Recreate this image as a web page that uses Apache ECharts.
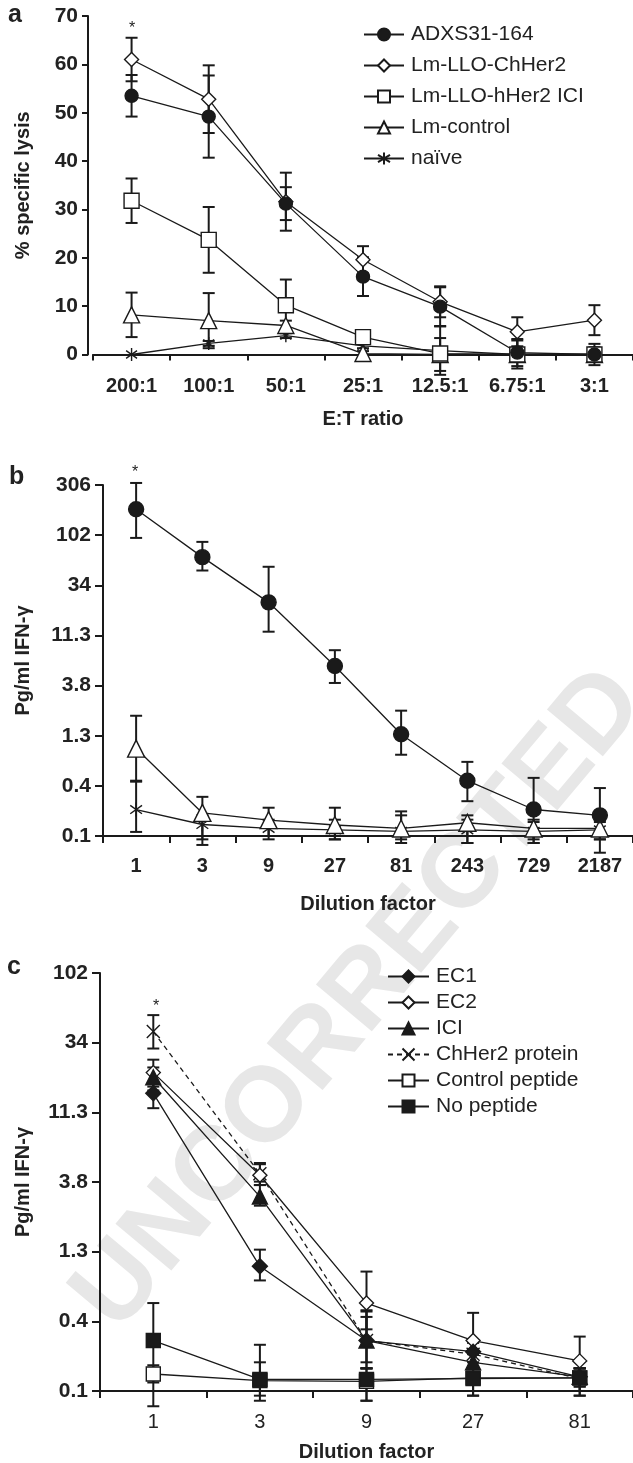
<!DOCTYPE html>
<html><head><meta charset="utf-8">
<script src="https://cdn.jsdelivr.net/npm/echarts@6/dist/echarts.min.js"></script>
<style>html,body{margin:0;padding:0;background:#fff}#c{width:633px;height:1463px}</style>
</head><body><div id="c"></div>
<script>
// ---------- Panel a : % specific lysis ----------
const catsA = ['200:1','100:1','50:1','25:1','12.5:1','6.75:1','3:1'];
const a_adxs      = [53.5, 49.2, 31.2, 16.1, 9.9, 0.4, 0];
const a_adxsErr   = [4.3, 8.5, 3.4, 4.0, 4.0, 2.8, 0];
const a_chher2    = [61.0, 52.8, 31.6, 19.6, 10.9, 4.7, 7.1];
const a_chher2Err = [4.5, 7.0, 6.0, 2.8, 3.2, 3.0, 3.1];
const a_ici       = [31.8, 23.7, 10.2, 3.6, 0.2, 0, 0];
const a_iciErr    = [4.6, 6.8, 5.3, 0.5, 0.5, 0, 2.2];
const a_ctrl      = [8.2, 7.0, 6.0, 0.2, 0, 0, 0];
const a_ctrlErr   = [4.6, 5.7, 1.0, 0.5, 3.4, 2.9, 1.5];
const a_naive     = [0, 2.3, 3.9, 1.8, 0.8, 0, 0];
const a_naiveErr  = [0, 0.5, 0.5, 0.5, 5.0, 0.5, 0.5];
const namesA = ['ADXS31-164','Lm-LLO-ChHer2','Lm-LLO-hHer2 ICI','Lm-control','naïve'];

// ---------- Panel b : Pg/ml IFN-gamma (log3 scale) ----------
const catsB = ['1','3','9','27','81','243','729','2187'];
const ticksB = ['0.1','0.4','1.3','3.8','11.3','34','102','306'];
const b_adxs    = [180, 63, 23.4, 5.8, 1.30, 0.47, 0.25, 0.22];
const b_adxsLo  = [96, 47, 12.3, 4.0, 0.83, 0.30, 0.12, 0.097];
const b_adxsHi  = [320, 88, 51, 8.2, 2.18, 0.71, 0.50, 0.40];
const b_ctrl    = [0.95, 0.232, 0.198, 0.178, 0.165, 0.187, 0.165, 0.165];
const b_ctrlLo  = [0.46, 0.13, 0.14, 0.13, 0.13, 0.12, 0.13, 0.13];
const b_ctrlHi  = [1.95, 0.33, 0.26, 0.26, 0.24, 0.22, 0.20, 0.20];
const b_naive   = [0.25, 0.18, 0.165, 0.16, 0.155, 0.16, 0.155, 0.16];
const b_naiveLo = [0.153, 0.115, 0.13, 0.13, 0.12, 0.12, 0.12, 0.13];
const b_naiveHi = [0.47, 0.22, 0.20, 0.20, 0.22, 0.20, 0.19, 0.19];

// ---------- Panel c : Pg/ml IFN-gamma (log3 scale) ----------
const catsC = ['1','3','9','27','81'];
const ticksC = ['0.1','0.4','1.3','3.8','11.3','34','102'];
const namesC = ['EC1','EC2','ICI','ChHer2 protein','Control peptide','No peptide'];
const c_ec1      = [15.3, 1.0, 0.31, 0.26, 0.175];
const c_ec1Lo    = [12.1, 0.8, 0.20, 0.22, 0.15];
const c_ec1Hi    = [18.0, 1.3, 0.45, 0.30, 0.20];
const c_ec2      = [21.2, 4.2, 0.56, 0.31, 0.225];
const c_ec2Lo    = [17.0, 3.6, 0.37, 0.25, 0.17];
const c_ec2Hi    = [26.0, 5.0, 0.92, 0.48, 0.33];
const c_ici      = [19.7, 3.0, 0.31, 0.22, 0.175];
const c_iciLo    = [16.0, 2.6, 0.22, 0.18, 0.15];
const c_iciHi    = [23.0, 3.8, 0.49, 0.27, 0.20];
const c_chher2   = [40.5, 4.3, 0.31, 0.25, 0.17];
const c_chher2Lo = [31.0, 3.6, 0.20, 0.20, 0.14];
const c_chher2Hi = [52.5, 5.1, 0.50, 0.30, 0.20];
const c_ctrlPep   = [0.183, 0.165, 0.163, 0.172, 0.172];
const c_ctrlPepLo = [0.16, 0.12, 0.12, 0.13, 0.13];
const c_ctrlPepHi = [0.21, 0.22, 0.20, 0.20, 0.20];
const c_noPep     = [0.31, 0.168, 0.168, 0.17, 0.172];
const c_noPepLo   = [0.11, 0.13, 0.12, 0.13, 0.13];
const c_noPepHi   = [0.56, 0.29, 0.20, 0.20, 0.20];

// ---------- helpers ----------
const INK = '#1a1a1a';
const FONT = '"Liberation Sans", Arial, Helvetica, sans-serif';
const BASE = 306 / Math.pow(3, 7);            // value of the bottom tick (labelled 0.1)
const T = v => Math.log(v / BASE) / Math.log(3);

const SYM = {
  asterisk: 'path://M5,0 L5,10 M0.8,2 L9.2,8 M0.8,8 L9.2,2',
  cross: 'path://M0,0 L10,10 M10,0 L0,10'
};

function lineSeries(name, xi, data, symbol, size, filled, dashed) {
  return {
    type: 'line', name, xAxisIndex: xi, yAxisIndex: xi, data,
    symbol, symbolSize: size, symbolKeepAspect: true, showAllSymbol: true,
    z: 4, silent: true, animation: false, clip: false,
    lineStyle: { color: INK, width: 1.3, type: dashed ? [5, 4] : 'solid' },
    itemStyle: { color: filled ? INK : '#fff', borderColor: INK, borderWidth: 1.4, opacity: 1 },
    emphasis: { disabled: true }
  };
}
function errSeries(xi, lo, hi) {
  return {
    type: 'custom', xAxisIndex: xi, yAxisIndex: xi, z: 3, silent: true, animation: false, clip: false,
    data: lo.map((l, i) => [i, l, hi[i]]),
    encode: { x: 0, y: [1, 2] },
    renderItem: (params, api) => {
      const x = api.value(0), l = api.value(1), h = api.value(2);
      if (Math.abs(h - l) < 1e-9) return null;
      const p1 = api.coord([x, l]), p2 = api.coord([x, h]);
      const w = 6, st = { stroke: INK, lineWidth: 2 };
      return { type: 'group', children: [
        { type: 'line', shape: { x1: p1[0], y1: p1[1], x2: p2[0], y2: p2[1] }, style: st },
        { type: 'line', shape: { x1: p1[0] - w, y1: p1[1], x2: p1[0] + w, y2: p1[1] }, style: st },
        { type: 'line', shape: { x1: p2[0] - w, y1: p2[1], x2: p2[0] + w, y2: p2[1] }, style: st }
      ]};
    }
  };
}
const linLo = (m, e) => m.map((v, i) => v - e[i]);
const linHi = (m, e) => m.map((v, i) => v + e[i]);
const tr = arr => arr.map(T);

const axisLineStyle = { lineStyle: { color: INK, width: 2 } };
const tickStyle = len => ({ show: true, inside: false, length: len, lineStyle: { color: INK, width: 2 } });
const boldLabel = (size, margin) => ({ fontFamily: FONT, fontWeight: 'bold', fontSize: size, color: '#222', margin });
const nameStyle = { fontFamily: FONT, fontWeight: 'bold', fontSize: 20, color: '#222' };

const option = {
  backgroundColor: '#fff',
  animation: false,
  textStyle: { fontFamily: FONT },
  grid: [
    { left: 93, top: 16, width: 546, height: 338.5 },
    { left: 103, top: 485, width: 530, height: 351 },
    { left: 100, top: 973, width: 533, height: 419 }
  ],
  xAxis: [
    { gridIndex: 0, type: 'category', data: catsA, boundaryGap: true,
      axisLine: axisLineStyle, axisTick: tickStyle(6), axisLabel: boldLabel(20, 22),
      name: 'E:T ratio', nameLocation: 'middle', nameGap: 55, nameTextStyle: nameStyle },
    { gridIndex: 1, type: 'category', data: catsB, boundaryGap: true,
      axisLine: axisLineStyle, axisTick: tickStyle(7), axisLabel: boldLabel(20, 20),
      name: 'Dilution factor', nameLocation: 'middle', nameGap: 58, nameTextStyle: nameStyle },
    { gridIndex: 2, type: 'category', data: catsC, boundaryGap: true,
      axisLine: axisLineStyle, axisTick: tickStyle(7),
      axisLabel: { fontFamily: FONT, fontSize: 20, color: '#222', margin: 21 },
      name: 'Dilution factor', nameLocation: 'middle', nameGap: 51, nameTextStyle: nameStyle }
  ],
  yAxis: [
    { gridIndex: 0, type: 'value', min: 0, max: 70, interval: 10, offset: 5,
      axisLine: { show: true, lineStyle: { color: INK, width: 2 } }, axisTick: tickStyle(6),
      splitLine: { show: false }, axisLabel: boldLabel(21, 10),
      name: '% specific lysis', nameLocation: 'middle', nameGap: 55, nameRotate: 90, nameTextStyle: nameStyle },
    { gridIndex: 1, type: 'value', min: 0, max: 7, interval: 1,
      axisLine: { show: true, lineStyle: { color: INK, width: 2 } }, axisTick: tickStyle(8),
      splitLine: { show: false },
      axisLabel: Object.assign(boldLabel(21, 12), { formatter: v => ticksB[Math.round(v)] }),
      name: 'Pg/ml IFN-γ', nameLocation: 'middle', nameGap: 70, nameRotate: 90, nameTextStyle: nameStyle },
    { gridIndex: 2, type: 'value', min: 0, max: 6, interval: 1,
      axisLine: { show: true, lineStyle: { color: INK, width: 2 } }, axisTick: tickStyle(8),
      splitLine: { show: false },
      axisLabel: Object.assign(boldLabel(21, 12), { formatter: v => ticksC[Math.round(v)] }),
      name: 'Pg/ml IFN-γ', nameLocation: 'middle', nameGap: 67, nameRotate: 90, nameTextStyle: nameStyle }
  ],
  legend: [
    { data: namesA, orient: 'vertical', left: 358, top: 19, itemWidth: 40, itemHeight: 15, itemGap: 10,
      selectedMode: false, textStyle: { fontFamily: FONT, fontSize: 21, color: '#222', padding: [0, 0, 0, 2] } },
    { data: namesC, orient: 'vertical', left: 382, top: 961, itemWidth: 41, itemHeight: 15, itemGap: 5,
      selectedMode: false, textStyle: { fontFamily: FONT, fontSize: 21, color: '#222', padding: [0, 0, 0, 2] } }
  ],
  graphic: [
    { type: 'text', x: 360, y: 1000, rotation: 50 * Math.PI / 180, z: -10, silent: true,
      style: { text: 'UNCORRECTED', font: 'bold 106px ' + FONT, fill: '#e7e7e7', textAlign: 'center', textVerticalAlign: 'middle' } },
    { type: 'text', x: 8, y: 3, style: { text: 'a', font: 'bold 25px ' + FONT, fill: '#222' } },
    { type: 'text', x: 9, y: 465, style: { text: 'b', font: 'bold 25px ' + FONT, fill: '#222' } },
    { type: 'text', x: 7, y: 955, style: { text: 'c', font: 'bold 25px ' + FONT, fill: '#222' } },
    { type: 'text', x: 132, y: 29, style: { text: '*', font: '16px ' + FONT, fill: '#222', textAlign: 'center', textVerticalAlign: 'middle' } },
    { type: 'text', x: 135, y: 473, style: { text: '*', font: '16px ' + FONT, fill: '#222', textAlign: 'center', textVerticalAlign: 'middle' } },
    { type: 'text', x: 156, y: 1007, style: { text: '*', font: '16px ' + FONT, fill: '#222', textAlign: 'center', textVerticalAlign: 'middle' } }
  ],
  series: [
    // panel a
    errSeries(0, linLo(a_adxs, a_adxsErr), linHi(a_adxs, a_adxsErr)),
    errSeries(0, linLo(a_chher2, a_chher2Err), linHi(a_chher2, a_chher2Err)),
    errSeries(0, linLo(a_ici, a_iciErr), linHi(a_ici, a_iciErr)),
    errSeries(0, linLo(a_ctrl, a_ctrlErr), linHi(a_ctrl, a_ctrlErr)),
    errSeries(0, linLo(a_naive, a_naiveErr), linHi(a_naive, a_naiveErr)),
    lineSeries('naïve', 0, a_naive, SYM.asterisk, 13, true),
    lineSeries('Lm-control', 0, a_ctrl, 'triangle', 16, false),
    lineSeries('Lm-LLO-hHer2 ICI', 0, a_ici, 'rect', 15, false),
    lineSeries('Lm-LLO-ChHer2', 0, a_chher2, 'diamond', 14, false),
    lineSeries('ADXS31-164', 0, a_adxs, 'circle', 13, true),
    // panel b
    errSeries(1, tr(b_adxsLo), tr(b_adxsHi)),
    errSeries(1, tr(b_ctrlLo), tr(b_ctrlHi)),
    errSeries(1, tr(b_naiveLo), tr(b_naiveHi)),
    lineSeries('b naïve', 1, tr(b_naive), SYM.asterisk, 14, true),
    lineSeries('b Lm-control', 1, tr(b_ctrl), 'triangle', 17, false),
    lineSeries('b ADXS31-164', 1, tr(b_adxs), 'circle', 15, true),
    // panel c
    errSeries(2, tr(c_noPepLo), tr(c_noPepHi)),
    errSeries(2, tr(c_ctrlPepLo), tr(c_ctrlPepHi)),
    errSeries(2, tr(c_chher2Lo), tr(c_chher2Hi)),
    errSeries(2, tr(c_iciLo), tr(c_iciHi)),
    errSeries(2, tr(c_ec2Lo), tr(c_ec2Hi)),
    errSeries(2, tr(c_ec1Lo), tr(c_ec1Hi)),
    lineSeries('Control peptide', 2, tr(c_ctrlPep), 'rect', 14, false),
    lineSeries('No peptide', 2, tr(c_noPep), 'rect', 14, true),
    lineSeries('ChHer2 protein', 2, tr(c_chher2), SYM.cross, 13, true, true),
    lineSeries('EC2', 2, tr(c_ec2), 'diamond', 14, false),
    lineSeries('ICI', 2, tr(c_ici), 'triangle', 15, true),
    lineSeries('EC1', 2, tr(c_ec1), 'diamond', 15, true)
  ]
};
const chart = echarts.init(document.getElementById('c'), null, { renderer: 'canvas' });
chart.setOption(option);
</script></body></html>
